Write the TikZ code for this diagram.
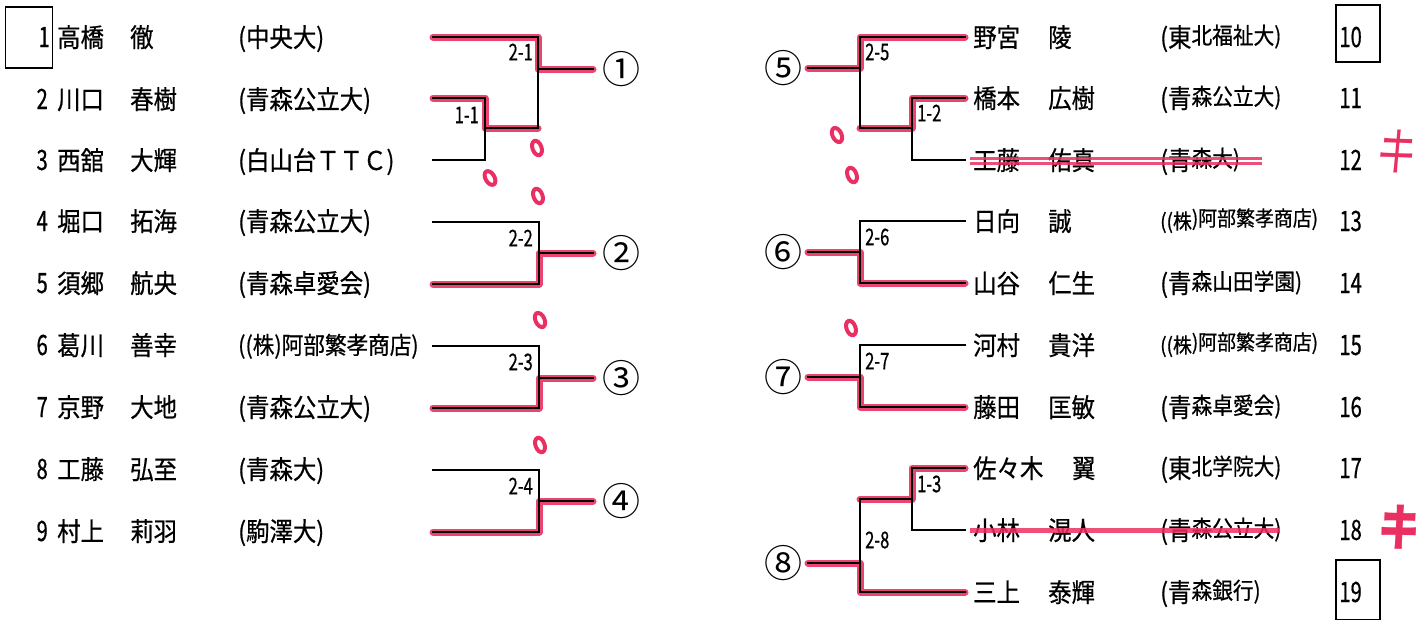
\documentclass[tikz,border=0pt]{standalone}
\usepackage{fontspec}
\setmainfont{Noto Sans CJK JP}[FakeStretch=0.9,FakeBold=0.6]
\newfontfamily\dg{Noto Sans CJK JP}[FakeStretch=0.72,FakeBold=0.6]
\newfontfamily\plainjp{Noto Sans CJK JP}
\definecolor{mk}{RGB}{234,48,98}
\begin{document}
\begin{tikzpicture}[x=1pt,y=-1pt,
  txt/.style={inner sep=0pt,anchor=base west,font=\fontsize{26}{26}\selectfont},
  num/.style={inner sep=0pt,anchor=base east,font=\dg\fontsize{28}{28}\selectfont},
  lab/.style={inner sep=0pt,font=\dg\fontsize{23}{23}\selectfont},
  circ/.style={inner sep=0pt,font=\plainjp\fontsize{38}{38}\selectfont},
  br/.style={line width=2.3pt,line cap=rect},
  hl/.style={mk,line width=7pt,line cap=round,line join=round,opacity=0.9,shift={(1,1)}},
  ring/.style={mk,line width=4pt},
  box/.style={draw,line width=1.8pt}]
\useasboundingbox (0,0) rectangle (1425,619);
% ---------- coordinates, left ----------
\coordinate (p1) at (433,37);  \coordinate (q1) at (538,37);
\coordinate (p2) at (433,98);  \coordinate (q2) at (485,98);
\coordinate (p3) at (433,160); \coordinate (q3) at (485,160);
\coordinate (m11) at (485,128); \coordinate (o11) at (538,128);
\coordinate (m21) at (538,69); \coordinate (e1) at (593,69);
\coordinate (p4) at (433,222); \coordinate (q4) at (539,222);
\coordinate (p5) at (433,284); \coordinate (q5) at (539,284);
\coordinate (m22) at (539,253); \coordinate (e2) at (593,253);
\coordinate (p6) at (433,346); \coordinate (q6) at (539,346);
\coordinate (p7) at (433,408); \coordinate (q7) at (539,408);
\coordinate (m23) at (539,378); \coordinate (e3) at (593,378);
\coordinate (p8) at (433,470); \coordinate (q8) at (539,470);
\coordinate (p9) at (433,532); \coordinate (q9) at (539,532);
\coordinate (m24) at (539,501); \coordinate (e4) at (593,501);
% ---------- coordinates, right ----------
\coordinate (r10) at (965,37);  \coordinate (k10) at (860,37);
\coordinate (r11) at (965,98);  \coordinate (k11) at (912,98);
\coordinate (r12) at (965,160); \coordinate (k12) at (912,160);
\coordinate (m12) at (912,128); \coordinate (o12) at (860,128);
\coordinate (m25) at (860,68);  \coordinate (e5) at (808,68);
\coordinate (r13) at (965,221); \coordinate (k13) at (860,221);
\coordinate (r14) at (965,283); \coordinate (k14) at (860,283);
\coordinate (m26) at (860,252); \coordinate (e6) at (808,252);
\coordinate (r15) at (965,345); \coordinate (k15) at (860,345);
\coordinate (r16) at (965,407); \coordinate (k16) at (860,407);
\coordinate (m27) at (860,377); \coordinate (e7) at (808,377);
\coordinate (r17) at (965,468); \coordinate (k17) at (912,468);
\coordinate (r18) at (965,530); \coordinate (k18) at (912,530);
\coordinate (m13) at (912,499); \coordinate (o13) at (860,499);
\coordinate (r19) at (965,592); \coordinate (k19) at (860,592);
\coordinate (m28) at (860,563); \coordinate (e8) at (808,563);
% ---------- red highlights ----------
\draw[hl] (p1) -- (q1) -- (m21) -- (e1);
\draw[hl] (p2) -- (q2) -- (m11) -- (o11);
\draw[hl] (p5) -- (q5) -- (m22) -- (e2);
\draw[hl] (p7) -- (q7) -- (m23) -- (e3);
\draw[hl] (p9) -- (q9) -- (m24) -- (e4);
\draw[hl] (e5) -- (m25) -- (k10) -- (r10);
\draw[hl] (o12) -- (m12) -- (k11) -- (r11);
\draw[hl] (e6) -- (m26) -- (k14) -- (r14);
\draw[hl] (e7) -- (m27) -- (k16) -- (r16);
\draw[hl] (o13) -- (m13) -- (k17) -- (r17);
\draw[hl] (e8) -- (m28) -- (k19) -- (r19);
% ---------- black brackets ----------
\draw[br] (p2) -- (q2) -- (q3) -- (p3);
\draw[br] (m11) -- (o11);
\draw[br] (p1) -- (q1) -- (o11);
\draw[br] (m21) -- (e1);
\draw[br] (p4) -- (q4) -- (q5) -- (p5); \draw[br] (m22) -- (e2);
\draw[br] (p6) -- (q6) -- (q7) -- (p7); \draw[br] (m23) -- (e3);
\draw[br] (p8) -- (q8) -- (q9) -- (p9); \draw[br] (m24) -- (e4);
\draw[br] (r11) -- (k11) -- (k12) -- (r12); \draw[br] (m12) -- (o12);
\draw[br] (r10) -- (k10) -- (o12); \draw[br] (m25) -- (e5);
\draw[br] (r13) -- (k13) -- (k14) -- (r14); \draw[br] (m26) -- (e6);
\draw[br] (r15) -- (k15) -- (k16) -- (r16); \draw[br] (m27) -- (e7);
\draw[br] (r17) -- (k17) -- (k18) -- (r18); \draw[br] (m13) -- (o13);
\draw[br] (o13) -- (k19) -- (r19); \draw[br] (m28) -- (e8);
% ---------- match labels ----------
\node[lab,anchor=east] (l21) at (533,52) {2-1};
\node[lab,anchor=east] (l11) at (479,115) {1-1};
\node[lab,anchor=east] (l22) at (533,238) {2-2};
\node[lab,anchor=east] (l23) at (533,362) {2-3};
\node[lab,anchor=east] (l24) at (533,486) {2-4};
\node[lab,anchor=west] (l25) at (865,52) {2-5};
\node[lab,anchor=west] (l12) at (917,113) {1-2};
\node[lab,anchor=west] (l26) at (865,237) {2-6};
\node[lab,anchor=west] (l27) at (865,361) {2-7};
\node[lab,anchor=west] (l13) at (917,484) {1-3};
\node[lab,anchor=west] (l28) at (865,540) {2-8};
% ---------- circled numbers ----------
\node[circ] (c1) at (621,69) {①};
\node[circ] (c2) at (621,253) {②};
\node[circ] (c3) at (621,378) {③};
\node[circ] (c4) at (621,501) {④};
\node[circ] (c5) at (783,68) {⑤};
\node[circ] (c6) at (783,252) {⑥};
\node[circ] (c7) at (783,377) {⑦};
\node[circ] (c8) at (783,563) {⑧};
% ---------- left entries ----------
\node[box,minimum width=47pt,minimum height=61pt,inner sep=0pt] (b1) at (29,37.5) {};
\node[num] (n1) at (50,47) {1};
\node[txt] (s1) at (57,47) {高橋}; \node[txt] (g1) at (130,47) {徹};
\node[txt] (a1) at (238,47) {(中央大)};
\node[num] (n2) at (48,109) {2};
\node[txt] (s2) at (57,109) {川口}; \node[txt] (g2) at (130,109) {春樹};
\node[txt] (a2) at (238,109) {(青森公立大)};
\node[num] (n3) at (48,170) {3};
\node[txt] (s3) at (57,170) {西舘}; \node[txt] (g3) at (130,170) {大輝};
\node[txt] (a3) at (238,170) {(白山台ＴＴＣ)};
\node[num] (n4) at (48,231) {4};
\node[txt] (s4) at (57,231) {堀口}; \node[txt] (g4) at (130,231) {拓海};
\node[txt] (a4) at (238,231) {(青森公立大)};
\node[num] (n5) at (48,293) {5};
\node[txt] (s5) at (57,293) {須郷}; \node[txt] (g5) at (130,293) {航央};
\node[txt] (a5) at (238,293) {(青森卓愛会)};
\node[num] (n6) at (48,355) {6};
\node[txt] (s6) at (57,355) {葛川}; \node[txt] (g6) at (130,355) {善幸};
\node[inner sep=0pt,anchor=base west,font=\fontsize{24}{24}\selectfont] (a6) at (238,354) {((株)阿部繁孝商店)};
\node[num] (n7) at (48,417) {7};
\node[txt] (s7) at (57,417) {京野}; \node[txt] (g7) at (130,417) {大地};
\node[txt] (a7) at (238,417) {(青森公立大)};
\node[num] (n8) at (48,479) {8};
\node[txt] (s8) at (57,479) {工藤}; \node[txt] (g8) at (130,479) {弘至};
\node[txt] (a8) at (238,479) {(青森大)};
\node[num] (n9) at (48,541) {9};
\node[txt] (s9) at (57,541) {村上}; \node[txt] (g9) at (130,541) {莉羽};
\node[txt] (a9) at (238,541) {(駒澤大)};
% ---------- right entries ----------
\newcommand{\rs}[1]{\raisebox{3pt}{\fontsize{23}{23}\selectfont #1}}
\node[txt] (s10) at (973,47) {野宮}; \node[txt] (g10) at (1048,47) {陵};
\node[txt] (a10) at (1160,47) {(東\rs{北福祉大)}};
\node[num] (n10) at (1362,47) {10};
\node[box,minimum width=44pt,minimum height=57pt,inner sep=0pt] (b10) at (1358,33.5) {};
\node[txt] (s11) at (973,108) {橋本}; \node[txt] (g11) at (1048,108) {広樹};
\node[txt] (a11) at (1160,108) {(青\rs{森公立大)}};
\node[num] (n11) at (1362,108) {11};
\node[txt] (s12) at (973,170) {工藤}; \node[txt] (g12) at (1048,170) {佑真};
\node[txt] (a12) at (1160,170) {(青\rs{森大)}};
\node[num] (n12) at (1362,170) {12};
\node[txt] (s13) at (973,231) {日向}; \node[txt] (g13) at (1048,231) {誠};
\node[inner sep=0pt,anchor=base west,font=\fontsize{21}{21}\selectfont] (a13) at (1160,229) {((株\raisebox{3pt}{)阿部繁孝商店)}};
\node[num] (n13) at (1362,231) {13};
\node[txt] (s14) at (973,293) {山谷}; \node[txt] (g14) at (1048,293) {仁生};
\node[txt] (a14) at (1160,293) {(青\rs{森山田学園)}};
\node[num] (n14) at (1362,293) {14};
\node[txt] (s15) at (973,355) {河村}; \node[txt] (g15) at (1048,355) {貴洋};
\node[inner sep=0pt,anchor=base west,font=\fontsize{21}{21}\selectfont] (a15) at (1160,353) {((株\raisebox{3pt}{)阿部繁孝商店)}};
\node[num] (n15) at (1362,355) {15};
\node[txt] (s16) at (973,417) {藤田}; \node[txt] (g16) at (1048,417) {匡敏};
\node[txt] (a16) at (1160,417) {(青\rs{森卓愛会)}};
\node[num] (n16) at (1362,417) {16};
\node[txt] (s17) at (973,478) {佐々木}; \node[txt] (g17) at (1072,478) {翼};
\node[txt] (a17) at (1160,478) {(東\rs{北学院大)}};
\node[num] (n17) at (1362,478) {17};
\node[txt] (s18) at (973,540) {小林}; \node[txt] (g18) at (1048,540) {滉人};
\node[txt] (a18) at (1160,540) {(青\rs{森公立大)}};
\node[num] (n18) at (1362,540) {18};
\node[txt] (s19) at (973,602) {三上}; \node[txt] (g19) at (1048,602) {泰輝};
\node[txt] (a19) at (1160,602) {(青\rs{森銀行)}};
\node[num] (n19) at (1362,602) {19};
\node[box,minimum width=44pt,minimum height=60pt,inner sep=0pt] (b19) at (1358,590) {};
% ---------- strike-throughs ----------
\draw[mk,line width=3pt,opacity=0.85] (970,158) -- (1262,158);
\draw[mk,line width=3pt,opacity=0.85] (970,163) -- (1262,163);
\draw[mk,line width=5pt,opacity=0.85] (970,530) -- (1280,530);
% ---------- hand marks ----------
\foreach \x/\y/\r in {537/148/20, 490/178/30, 538/196/20, 540/320/25, 540/445/20, 837/135/25, 852/175/20, 851/328/20}
  \draw[ring,rotate around={\r:(\x,\y)}] (\x,\y) ellipse (4.5 and 7.5);
\node[mk,font=\plainjp\fontsize{40}{40}\selectfont,rotate=-14,yscale=1.3] (k12m) at (1398,152) {キ};
\node[mk,font=\plainjp\bfseries\fontsize{42}{42}\selectfont,rotate=-12,yscale=1.2] (k18m) at (1400,527) {キ};
\end{tikzpicture}
\end{document}
